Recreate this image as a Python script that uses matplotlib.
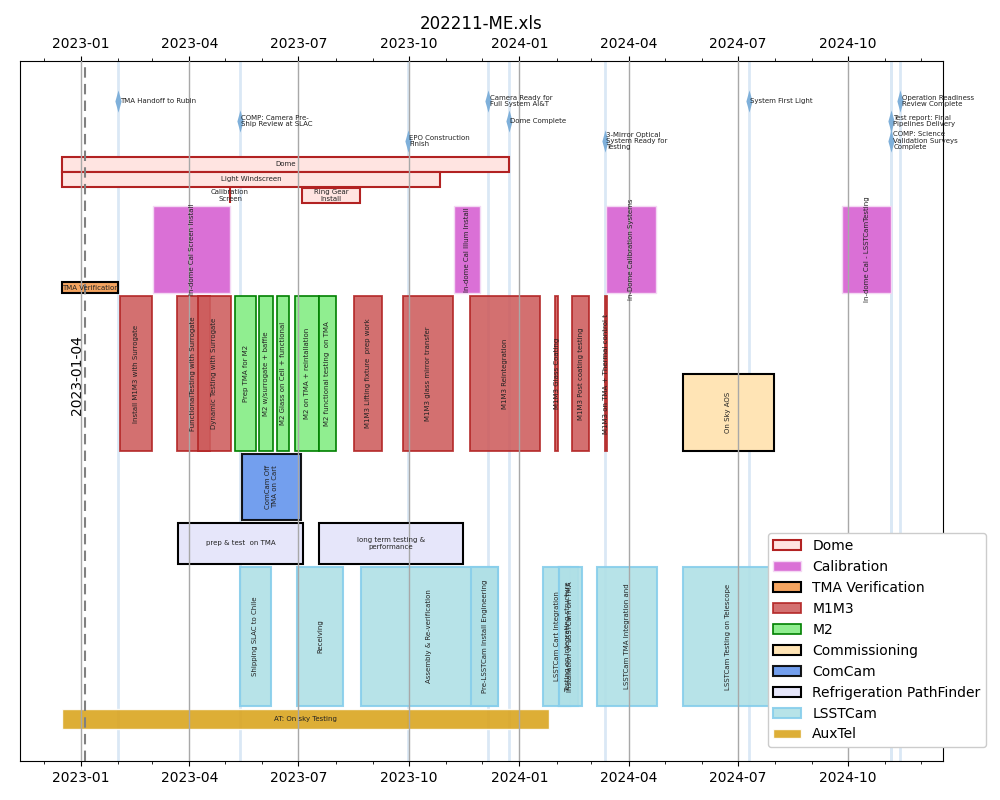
import matplotlib
matplotlib.use("Agg")
import matplotlib.pyplot as plt
import matplotlib.dates as mdates
from matplotlib.patches import Patch
from matplotlib.path import Path
import datetime as dt

# ---------------- data ----------------
title = "202211-ME.xls"
today = "2023-01-04"

milestone_names = ["TMA Handoff to Rubin", "COMP: Camera Pre-\nShip Review at SLAC",
                   "EPO Construction\nFinish", "Camera Ready for\nFull System AI&T",
                   "Dome Complete", "3-Mirror Optical\nSystem Ready for\nTesting",
                   "System First Light", "Operation Readiness\nReview Complete",
                   "Test report: Final\nPipelines Delivery",
                   "COMP: Science\nValidation Surveys\nComplete"]
milestone_dates = ["2023-02-01", "2023-05-13", "2023-09-30", "2023-12-06", "2023-12-23",
                   "2024-03-12", "2024-07-10", "2024-11-13", "2024-11-06", "2024-11-06"]
milestone_level = [0, 1, 2, 0, 1, 2, 0, 0, 1, 2]

dome_tasks = ["Dome", "Light Windscreen", "Calibration\nScreen", "Ring Gear\nInstall"]
dome_start = ["2022-12-16", "2022-12-16", "2023-05-05", "2023-07-04"]
dome_end = ["2023-12-23", "2023-10-27", "2023-05-05", "2023-08-21"]

cal_tasks = ["In-dome Cal Screen Install", "In-dome Cal Illum Install",
             "In-Dome Calibration Systems", "In-dome Cal - LSSTCamTesting"]
cal_start = ["2023-03-02", "2023-11-08", "2024-03-13", "2024-09-26"]
cal_end = ["2023-05-05", "2023-11-29", "2024-04-24", "2024-11-06"]

tma_tasks = ["TMA Verification"]
tma_start = ["2022-12-16"]
tma_end = ["2023-02-01"]

m1m3_tasks = ["Install M1M3 with Surrogate", "FunctionalTesting with Surrogate",
              "Dynamic Testing with Surrogate", "M1M3 Lifting fixture  prep work",
              "M1M3 glass mirror transfer", "M1M3 Reintegration", "M1M3 Glass Coating",
              "M1M3 Post coating testing", "M1M3 on TMA + Thermal control t"]
m1m3_start = ["2023-02-02", "2023-03-22", "2023-04-08", "2023-08-16", "2023-09-26",
              "2023-11-21", "2024-01-31", "2024-02-14", "2024-03-12"]
m1m3_end = ["2023-03-01", "2023-04-18", "2023-05-06", "2023-09-09", "2023-11-07",
            "2024-01-18", "2024-02-02", "2024-02-28", "2024-03-14"]

m2_tasks = ["Prep TMA for M2", "M2 w/surrogate + baffle", "M2 Glass on Cell + functional",
            "M2 on TMA + reintallation", "M2 functional testing  on TMA"]
m2_start = ["2023-05-09", "2023-05-29", "2023-06-13", "2023-06-28", "2023-07-18"]
m2_end = ["2023-05-27", "2023-06-10", "2023-06-23", "2023-07-18", "2023-08-01"]

comm_tasks = ["On Sky AOS"]
comm_start = ["2024-05-16"]
comm_end = ["2024-07-31"]

comcam_tasks = ["ComCam Off\nTMA on Cart"]
comcam_start = ["2023-05-15"]
comcam_end = ["2023-07-03"]

refrig_tasks = ["prep & test  on TMA", "long term testing &\nperformance"]
refrig_start = ["2023-03-23", "2023-07-18"]
refrig_end = ["2023-07-05", "2023-11-15"]

lsst_tasks = ["Shipping SLAC to Chile", "Receiving", "Assembly & Re-verification",
              "Pre-LSSTCam Install Engineering", "LSSTCam Cart Integration",
              "Testing on integrating structure", "Installation of LSSTCam on TMA",
              "LSSTCam TMA Integration and", "LSSTCam Testing on Telescope"]
lsst_start = ["2023-05-13", "2023-06-30", "2023-08-22", "2023-11-22", "2024-01-21",
              "2024-02-03", "2024-02-03", "2024-03-06", "2024-05-16"]
lsst_end = ["2023-06-08", "2023-08-07", "2023-12-14", "2023-12-14", "2024-02-12",
            "2024-02-19", "2024-02-22", "2024-04-25", "2024-07-31"]

aux_tasks = ["AT: On sky Testing"]
aux_start = ["2022-12-16"]
aux_end = ["2024-01-26"]

# ---------------- layout / style ----------------
# vertical rows (axis units, 0 at top); (top, height)
groups = [
    ("Dome", dome_tasks, dome_start, dome_end, [(96, 15), (111, 15), (127, 15), (127, 15)],
     "#ffe4e1", "#b22222", 1.5, 1.0, False),
    ("Calibration", cal_tasks, cal_start, cal_end, [(145, 87)] * 4,
     "#da70d6", "#f4d8f4", 1.0, 1.0, True),
    ("TMA Verification", tma_tasks, tma_start, tma_end, [(221, 11)],
     "#f4a460", "black", 1.5, 1.0, False),
    ("M1M3", m1m3_tasks, m1m3_start, m1m3_end, [(235, 155)] * 9,
     "#cd5c5c", "#b22222", 1.3, 0.88, True),
    ("M2", m2_tasks, m2_start, m2_end, [(235, 155)] * 5,
     "#90ee90", "green", 1.2, 1.0, True),
    ("Commissioning", comm_tasks, comm_start, comm_end, [(313, 77)],
     "#ffe4b5", "black", 1.5, 1.0, True),
    ("ComCam", comcam_tasks, comcam_start, comcam_end, [(393, 66)],
     "#6495ed", "black", 1.5, 0.9, True),
    ("Refrigeration PathFinder", refrig_tasks, refrig_start, refrig_end, [(462, 41)] * 2,
     "#e6e6fa", "black", 1.5, 1.0, False),
    ("LSSTCam", lsst_tasks, lsst_start, lsst_end, [(506, 139)] * 9,
     "#b0e0e6", "#87ceeb", 1.5, 0.9, True),
    ("AuxTel", aux_tasks, aux_start, aux_end, [(648, 20)],
     "#daa520", "white", 1.0, 0.9, False),
]
milestone_y = [40, 60, 80]

def d(s):
    return mdates.date2num(dt.datetime.strptime(s, "%Y-%m-%d"))

fig = plt.figure(figsize=(10, 8), dpi=100)
ax = fig.add_axes([0.02, 0.04875, 0.923, 0.875])

# milestone vertical lines (behind)
for md in milestone_dates:
    ax.axvline(d(md), color="#dae8f5", lw=2, zorder=0.5)

handles = []
for name, tasks, starts, ends, rows, fc, ec, lw, alpha, rot in groups:
    for t, s, e, (top, h) in zip(tasks, starts, ends, rows):
        x0, x1 = d(s), d(e)
        ax.barh(top + h / 2, x1 - x0, left=x0, height=h, color=fc, edgecolor=ec,
                linewidth=lw, alpha=alpha, zorder=2)
        ax.text((x0 + x1) / 2, top + h / 2, t, rotation=90 if rot else 0,
                ha="center", va="center", fontsize=5, color="#222222", zorder=4,
                multialignment="center")
    handles.append(Patch(facecolor=fc, edgecolor=ec, linewidth=lw, alpha=alpha, label=name))

# milestones
mk = Path([(0, 1), (0.28, 0), (0, -1), (-0.28, 0), (0, 1)],
          [Path.MOVETO, Path.LINETO, Path.LINETO, Path.LINETO, Path.CLOSEPOLY])
for nm, md, lv in zip(milestone_names, milestone_dates, milestone_level):
    x = d(md)
    y = milestone_y[lv]
    ax.plot([x], [y], marker=mk, markersize=16, color="#7fb0da", mec="none", zorder=5)
    ax.text(x + 1.5, y, nm, fontsize=5, ha="left", va="center", color="#222222", zorder=5,
            linespacing=1.1)

# today line
ax.axvline(d(today), color="gray", ls=(0, (5, 3)), lw=1.5, zorder=3)
ax.text(d(today) - 1, 314, today, rotation=90, ha="right", va="center", fontsize=10)

# quarterly grid on top
for q in ["2023-01-01", "2023-04-01", "2023-07-01", "2023-10-01", "2024-01-01",
          "2024-04-01", "2024-07-01", "2024-10-01"]:
    ax.axvline(d(q), color="#a8a8a8", lw=1, zorder=3)

ax.set_xlim(d("2022-11-11"), d("2024-12-19"))
ax.set_ylim(700, 0)
ax.set_yticks([])
ax.xaxis.set_major_locator(mdates.MonthLocator(bymonth=[1, 4, 7, 10]))
ax.xaxis.set_minor_locator(mdates.MonthLocator())
ax.xaxis.set_major_formatter(mdates.DateFormatter("%Y-%m"))
ax.tick_params(axis="x", which="both", top=True, labeltop=True, bottom=True, labelbottom=True)
ax.set_title(title, fontsize=12)

leg = ax.legend(handles=handles, loc="lower right", bbox_to_anchor=(1.0466, 0.02),
                borderaxespad=0, fontsize=10, framealpha=1)
leg.set_zorder(10)

fig.savefig("out.png", dpi=100)
